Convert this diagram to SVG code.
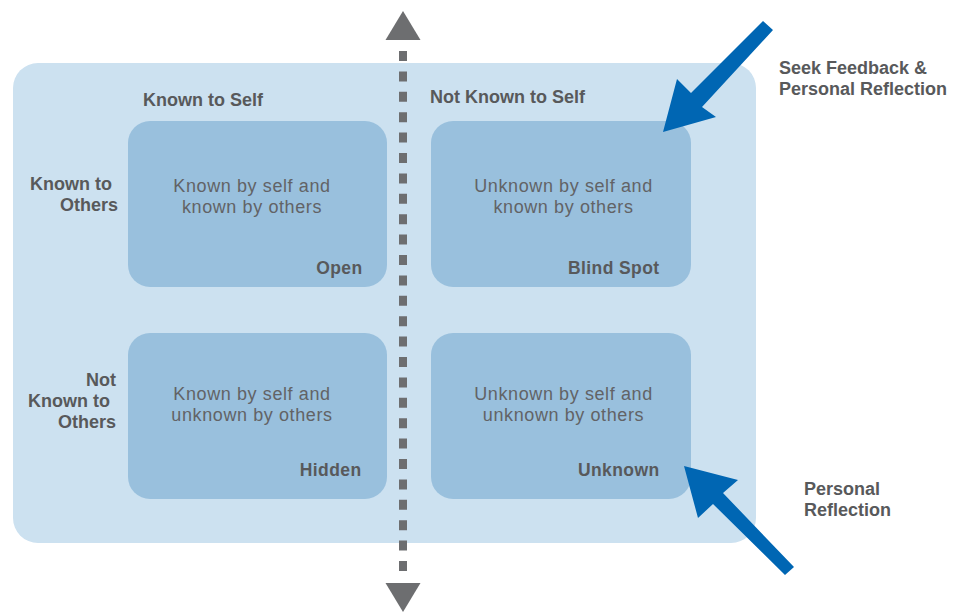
<svg xmlns="http://www.w3.org/2000/svg" width="956" height="612" viewBox="0 0 956 612">
<style>
.hdr{font-family:"Liberation Sans",Arial,sans-serif;font-weight:700;font-size:18px;fill:#58595b}
.lbl{font-family:"Liberation Sans",Arial,sans-serif;font-weight:700;font-size:18px;fill:#58595b}
.name{font-family:"Liberation Sans",Arial,sans-serif;font-weight:700;font-size:17.5px;letter-spacing:0.4px;fill:#58595b;text-anchor:end}
.desc{font-family:"Liberation Sans",Arial,sans-serif;font-weight:400;font-size:18px;letter-spacing:0.6px;fill:#626366;text-anchor:middle}
.quad{fill:#99c0dd}
.blue{fill:#0066b3}
</style>
<rect id="background" x="13" y="63" width="743" height="480" rx="25" fill="#cce1f0"/>
<g id="headers">
<text class="hdr" x="143" y="106">Known to Self</text>
<text class="hdr" x="430" y="103">Not Known to Self</text>
<text class="hdr" x="112" y="190" text-anchor="end">Known to</text>
<text class="hdr" x="118" y="211" text-anchor="end">Others</text>
<text class="hdr" x="116" y="386" text-anchor="end">Not</text>
<text class="hdr" x="110" y="407" text-anchor="end">Known to</text>
<text class="hdr" x="116" y="428" text-anchor="end">Others</text>
</g>
<g id="open">
<rect class="quad" x="128" y="121" width="259" height="166" rx="22"/>
<text class="desc" x="252" y="192">Known by self and</text>
<text class="desc" x="252" y="213">known by others</text>
<text class="name" x="362.5" y="274">Open</text>
</g>
<g id="blind-spot">
<rect class="quad" x="431" y="121" width="260" height="166" rx="22"/>
<text class="desc" x="563.5" y="192">Unknown by self and</text>
<text class="desc" x="563.5" y="213">known by others</text>
<text class="name" x="659.5" y="274">Blind Spot</text>
</g>
<g id="hidden">
<rect class="quad" x="128" y="333" width="259" height="166" rx="22"/>
<text class="desc" x="252" y="400">Known by self and</text>
<text class="desc" x="252" y="421">unknown by others</text>
<text class="name" x="361.5" y="476">Hidden</text>
</g>
<g id="unknown">
<rect class="quad" x="431" y="333" width="260" height="166" rx="22"/>
<text class="desc" x="563.5" y="400">Unknown by self and</text>
<text class="desc" x="563.5" y="421">unknown by others</text>
<text class="name" x="659.5" y="476">Unknown</text>
</g>
<g id="connectors">
<line x1="403" y1="51" x2="403" y2="573" stroke="#6d6e70" stroke-width="8" stroke-dasharray="10 10.4"/>
<polygon points="403,11 420.5,40 385.5,40" fill="#6d6e70"/>
<polygon points="403,612 420.5,583 385.5,583" fill="#6d6e70"/>
<polygon class="blue" points="663,132 677,79 691,93 763,21 773,30 702,107 716,117"/>
<polygon class="blue" points="684,466 738,480 723,493 794,567 785,575 713,504 698,518"/>
</g>
<g id="arrow-labels">
<text class="lbl" x="779" y="74">Seek Feedback &amp;</text>
<text class="lbl" x="779" y="95">Personal Reflection</text>
<text class="lbl" x="804" y="495">Personal</text>
<text class="lbl" x="804" y="516">Reflection</text>
</g>
</svg>
